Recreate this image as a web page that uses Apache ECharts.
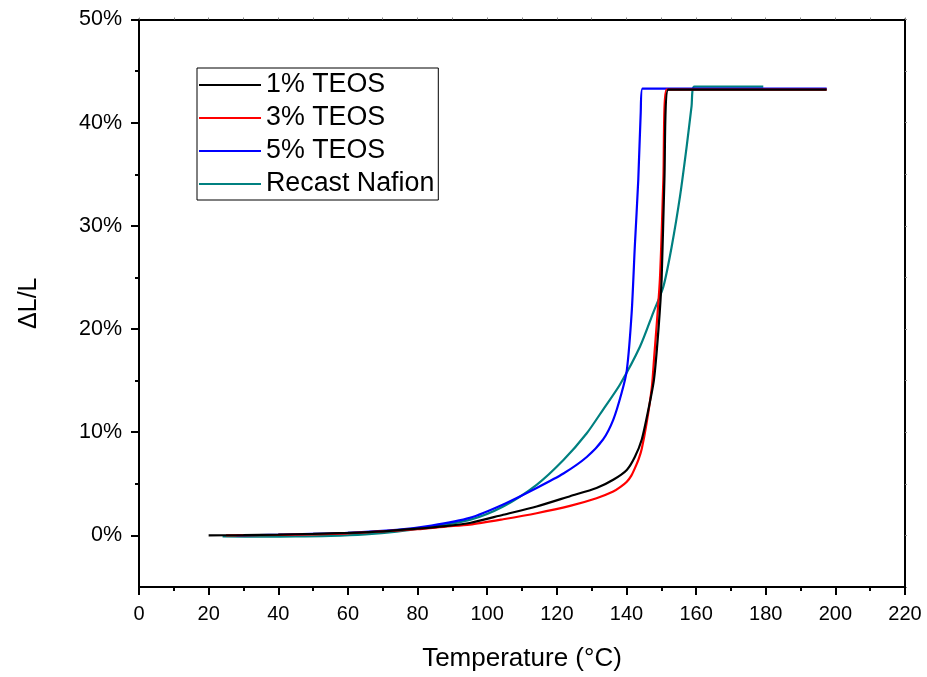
<!DOCTYPE html>
<html>
<head>
<meta charset="utf-8">
<script src="https://cdn.jsdelivr.net/npm/echarts@6/dist/echarts.min.js"></script>
<style>
  html, body { margin: 0; padding: 0; background: #fff; }
  #chart { width: 927px; height: 677px; }
</style>
</head>
<body>
<div id="chart"></div>
<script>
// Dilatometry: relative length change ΔL/L (%) versus temperature (°C)
const seriesNames = ['1% TEOS', '3% TEOS', '5% TEOS', 'Recast Nafion'];
const seriesColors = ['#000000', '#ff0000', '#0000ff', '#008080'];

const temp1 = [20, 30, 40, 50, 60, 70, 80, 88, 95, 104.6, 114.2, 123.8, 131.4, 136.2, 140.1, 142.4, 144.4, 146.3, 147.9, 149.2, 150.1, 150.9, 152.0, 197.5];
const val1  = [0, 0.03, 0.08, 0.15, 0.25, 0.4, 0.65, 0.9, 1.2, 2.0, 2.8, 3.8, 4.6, 5.4, 6.35, 7.6, 9.3, 12.2, 15.1, 20.0, 24.8, 34.5, 43.2, 43.2];

const temp3 = [25, 40, 60, 80, 88, 95, 104.6, 114.2, 123.8, 131.4, 136.2, 138.3, 140.1, 141.4, 142.4, 143.5, 144.4, 145.8, 147.3, 147.9, 149.6, 150.6, 151.5, 197.5];
const val3  = [0, 0.05, 0.2, 0.6, 0.85, 1.05, 1.57, 2.15, 2.86, 3.6, 4.25, 4.7, 5.2, 5.8, 6.5, 7.4, 8.4, 10.9, 14.4, 17.0, 24.8, 34.5, 43.2, 43.2];

const temp5 = [28, 40, 60, 74, 84, 95, 104.6, 114.2, 121.9, 128.6, 133.3, 136.2, 138.6, 140.1, 141.5, 142.4, 143.4, 144.1, 144.6, 197.5];
const val5  = [0, 0.08, 0.25, 0.53, 0.95, 1.7, 3.0, 4.6, 6.0, 7.6, 9.3, 11.2, 13.8, 16.0, 21.6, 28.0, 34.5, 41.0, 43.3, 43.3];

const tempN = [24, 36, 45, 55, 65, 74, 84, 95, 104.6, 114.2, 121.9, 128.6, 133.3, 138.1, 143.9, 147.7, 150.6, 153.0, 155.4, 157.3, 158.7, 159.5, 179.3];
const valN  = [-0.1, -0.12, -0.1, -0.05, 0.1, 0.37, 0.85, 1.5, 2.8, 4.9, 7.3, 9.9, 12.2, 14.6, 18.3, 21.6, 24.1, 28.0, 32.9, 37.7, 41.6, 43.5, 43.5];

const seriesTemps = [temp1, temp3, temp5, tempN];
const seriesVals = [val1, val3, val5, valN];

const xTicks = [0, 20, 40, 60, 80, 100, 120, 140, 160, 180, 200, 220];
const yMajorTicks = [0, 10, 20, 30, 40, 50];
const yMinorTicks = [5, 15, 25, 35, 45];

const FONT = '"Liberation Sans", Arial, sans-serif';

const series = seriesNames.map((name, i) => ({
  name,
  type: 'line',
  xAxisIndex: 0,
  yAxisIndex: 0,
  data: seriesTemps[i].map((t, k) => [t, seriesVals[i][k]]),
  showSymbol: false,
  symbol: 'none',
  smooth: 0.25,
  lineStyle: { color: seriesColors[i], width: 2.2 },
  itemStyle: { color: seriesColors[i] },
  z: 10 - i
}));

const chart = echarts.init(document.getElementById('chart'), null, { renderer: 'canvas' });
chart.setOption({
  backgroundColor: '#ffffff',
  animation: false,
  grid: { left: 139, right: 22, top: 19.5, bottom: 84, containLabel: false },
  legend: {
    orient: 'vertical',
    left: 197,
    top: 68,
    width: 240,
    padding: [2, 4, 1, 2],
    itemGap: 3,
    itemWidth: 62,
    itemHeight: 14,
    borderColor: '#000',
    borderWidth: 1,
    backgroundColor: '#fff',
    data: seriesNames.map(n => ({ name: n, icon: 'path://M0,6L62,6L62,8L0,8Z' })),
    textStyle: { fontFamily: FONT, fontSize: 26.8, color: '#000', lineHeight: 30 }
  },
  xAxis: [
    {
      type: 'value', position: 'bottom', min: xTicks[0], max: xTicks[xTicks.length - 1], interval: 20,
      name: 'Temperature (°C)', nameLocation: 'middle', nameGap: 59,
      nameTextStyle: { fontFamily: FONT, fontSize: 26, color: '#000' },
      axisLine: { show: true, onZero: false, lineStyle: { color: '#000', width: 2 } },
      axisTick: { show: true, inside: false, length: 8, lineStyle: { color: '#000', width: 2 } },
      minorTick: { show: true, splitNumber: 2, length: 4, lineStyle: { color: '#000', width: 2 } },
      axisLabel: { fontFamily: FONT, fontSize: 20, color: '#000', margin: 17 },
      splitLine: { show: false }
    },
    {
      type: 'value', position: 'top', min: xTicks[0], max: xTicks[xTicks.length - 1], interval: 10,
      axisLine: { show: true, onZero: false, lineStyle: { color: '#000', width: 2 } },
      axisTick: { show: true, inside: false, length: 2, lineStyle: { color: '#888', width: 1 } },
      axisLabel: { show: false },
      splitLine: { show: false }
    }
  ],
  yAxis: [
    {
      type: 'value', position: 'left', min: -5, max: 50,
      name: 'ΔL/L', nameLocation: 'middle', nameGap: 97, nameRotate: 90,
      nameTextStyle: { fontFamily: FONT, fontSize: 25, color: '#000' },
      axisLine: { show: true, onZero: false, lineStyle: { color: '#000', width: 2 } },
      axisTick: { show: true, inside: false, length: 8, customValues: yMajorTicks, lineStyle: { color: '#000', width: 2 } },
      axisLabel: { customValues: yMajorTicks, formatter: '{value}%', fontFamily: FONT, fontSize: 21.5, color: '#000', margin: 17 },
      splitLine: { show: false }
    },
    {
      type: 'value', position: 'right', min: -5, max: 50, interval: 5,
      axisLine: { show: true, onZero: false, lineStyle: { color: '#000', width: 2 } },
      axisTick: { show: true, inside: false, length: 2, lineStyle: { color: '#888', width: 1 } },
      axisLabel: { show: false },
      splitLine: { show: false }
    },
    {
      type: 'value', position: 'left', offset: 0, min: -5, max: 50,
      axisLine: { show: false },
      axisTick: { show: true, inside: false, length: 4, customValues: yMinorTicks, lineStyle: { color: '#000', width: 2 } },
      axisLabel: { show: false },
      splitLine: { show: false }
    }
  ],
  series
});
</script>
</body>
</html>
